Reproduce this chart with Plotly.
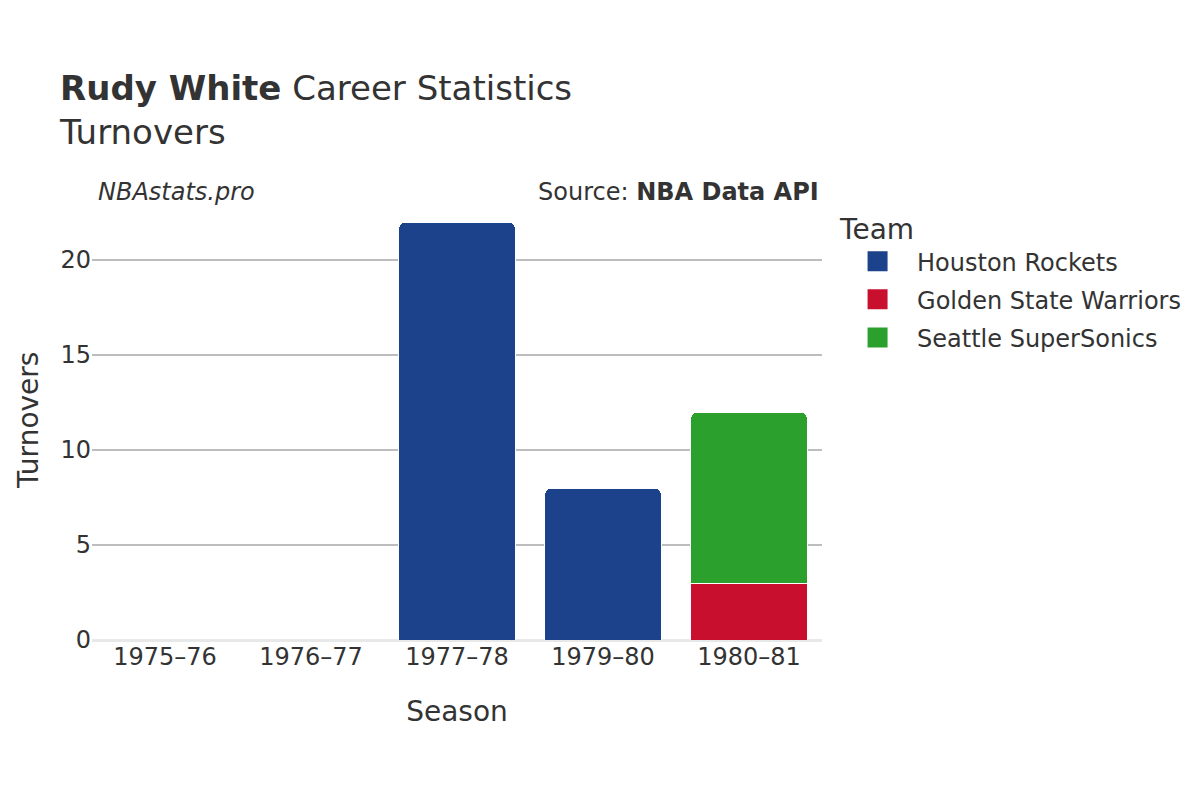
import plotly.graph_objects as go

seasons = ["1975–76", "1976–77", "1977–78", "1979–80", "1980–81"]

teams = ["Houston Rockets", "Golden State Warriors", "Seattle SuperSonics"]
colors = ["#1b428a", "#c8102e", "#2ca02c"]

houston = [None, None, 22, 8, None]
golden_state = [None, None, None, None, 3]
seattle = [None, None, None, None, 9]

values = [houston, golden_state, seattle]

fig = go.Figure()
for name, color, vals in zip(teams, colors, values):
    fig.add_trace(go.Bar(
        x=seasons, y=vals, name=name, legendgroup=name, showlegend=False,
        marker=dict(color=color, line=dict(color="white", width=1)),
    ))
    # legend-only entry so the swatch can be bigger than the bar default
    fig.add_trace(go.Scatter(
        x=[seasons[0]], y=[None], name=name, legendgroup=name,
        mode="markers",
        marker=dict(symbol="square", size=16, color=color,
                    line=dict(color=color, width=4)),
    ))

font = "DejaVu Sans"
fig.update_layout(
    barmode="stack",
    barcornerradius=7,
    width=1200, height=800,
    paper_bgcolor="white", plot_bgcolor="white",
    font=dict(family=font, color="#333333", size=20),
    margin=dict(l=84, r=386, t=192, b=168),
    title=dict(
        text="<b>Rudy White</b> Career Statistics<br>Turnovers",
        x=52 / 1200, xanchor="left", y=0.885, yanchor="top",
        font=dict(size=34, color="#333333"),
    ),
    xaxis=dict(
        title=dict(text="Season", font=dict(size=28), standoff=31),
        type="category", categoryorder="array", categoryarray=seasons,
        tickfont=dict(size=24),
        automargin=False,
    ),
    yaxis=dict(
        gridcolor="#bdbdbd", gridwidth=1.5,
        zeroline=True, zerolinecolor="#e8e8e8", zerolinewidth=3,
        tickfont=dict(size=24),
        dtick=5,
        automargin=False,
    ),
    legend=dict(
        title=dict(text="Team", font=dict(size=28)),
        font=dict(size=24),
        traceorder="grouped",
        tracegroupgap=4,
        itemwidth=69,
        x=1.022, y=0.994, xanchor="left", yanchor="top",
    ),
    annotations=[
        dict(text="Turnovers", xref="paper", yref="paper",
             x=-0.0877, y=0.5, xanchor="center", yanchor="middle",
             textangle=-90, showarrow=False,
             font=dict(size=28, color="#333333")),
        dict(text="<i>NBAstats.pro</i>", xref="paper", yref="paper",
             x=0.0055, y=1.018, xanchor="left", yanchor="middle",
             showarrow=False, font=dict(size=24, color="#333333")),
        dict(text="Source: <b>NBA Data API</b>", xref="paper", yref="paper",
             x=0.9986, y=1.018, xanchor="right", yanchor="middle",
             showarrow=False, font=dict(size=24, color="#333333")),
    ],
)

fig.write_html("out.html")
